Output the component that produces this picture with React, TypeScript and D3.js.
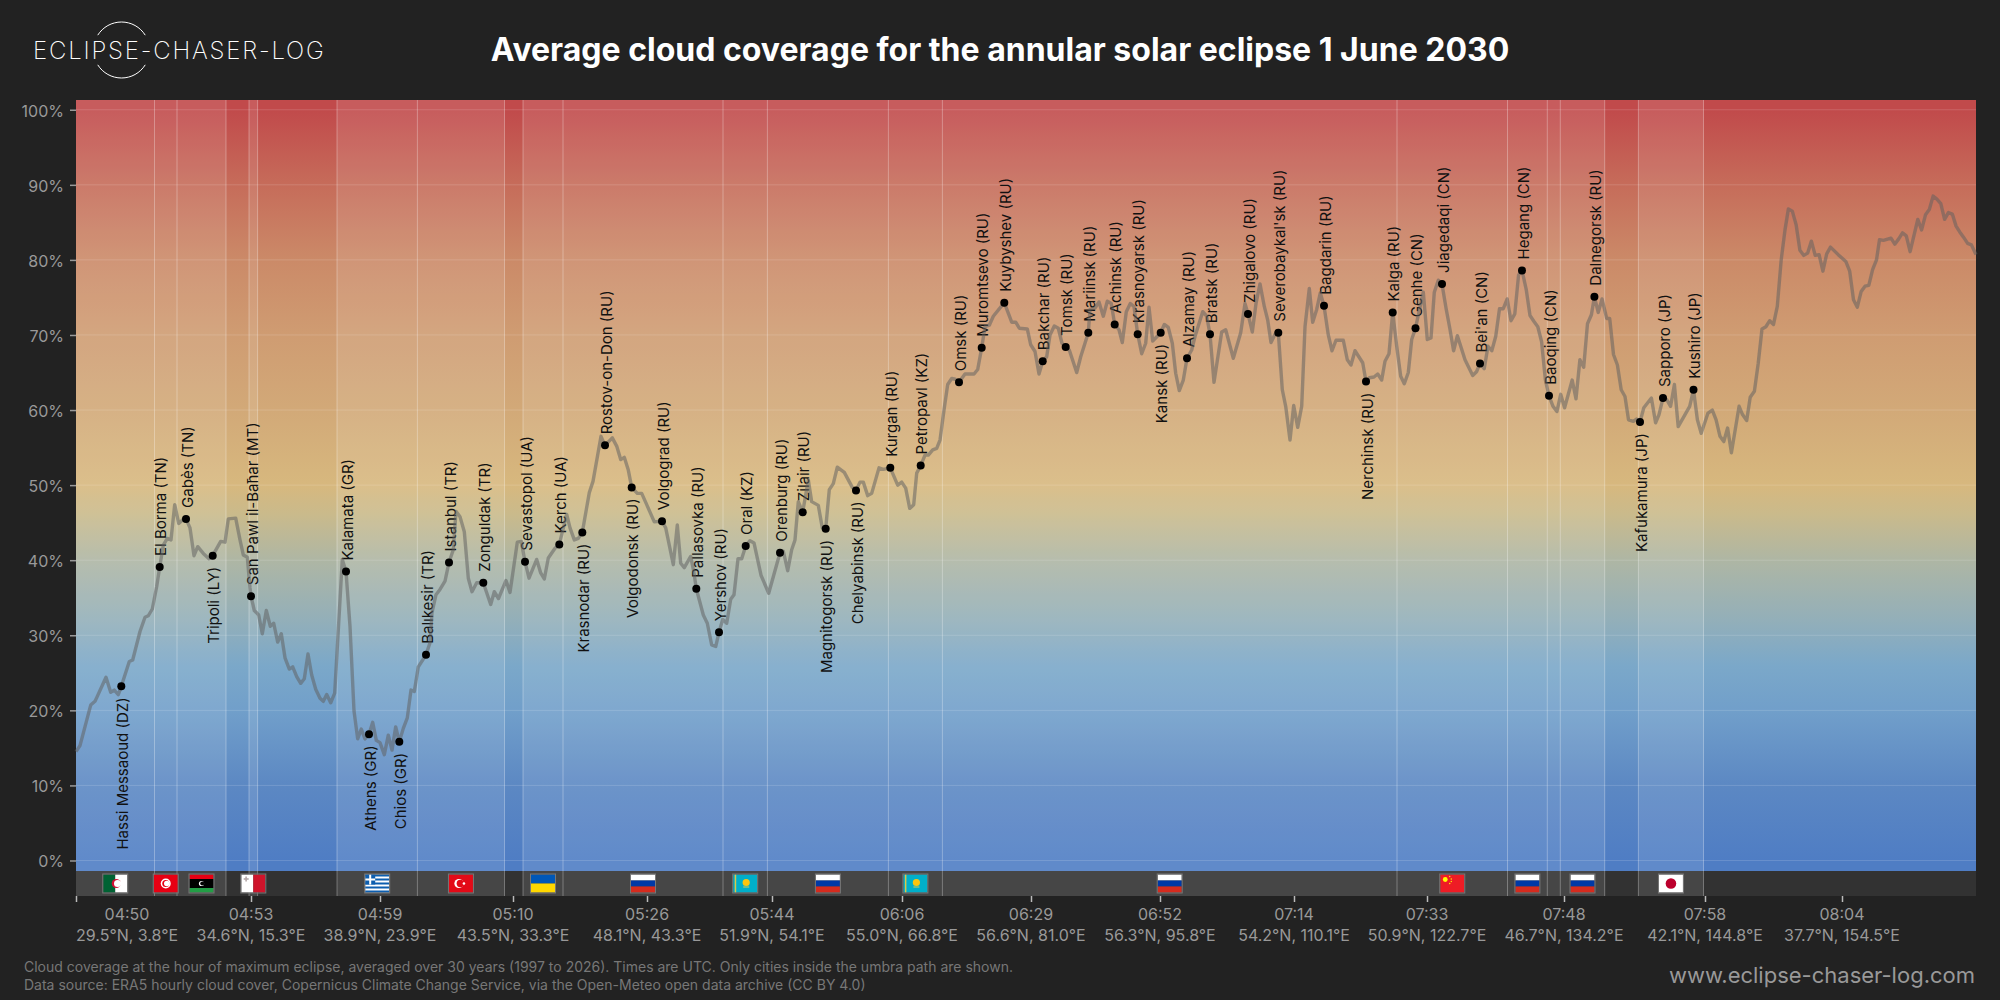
import * as d3 from "d3";
import { useEffect, useRef } from "react";

// position along the eclipse track (0-1900) and mean cloud cover in percent
const cloudTrack: [number, number][] = [
  [0,14.5],[4,15.3],[14.7,20.7],[19,21.2],[30,24.4],[34.7,22.4],[38.3,22.7],[42.3,22.1],[45.3,23.2],[53.3,26.5],[56.7,26.7],[64,30.5],[69,32.4],[72.3,32.6],[76.3,33.5],[80.7,36.5],[83.7,39.1],[87.3,42.0],[91.3,42.9],[95,42.7],[98.7,47.4],[102.7,44.9],[106.7,45.4],[110,45.5],[114,44.3],[118,40.6],[121.7,41.8],[127.3,40.9],[133,40.2],[136.7,40.6],[144.7,42.5],[149,42.4],[152.3,45.5],[159.7,45.6],[164,42.7],[167.3,40.7],[171.3,40.4],[174,36.3],[175,35.2],[178.3,33.3],[182.7,32.7],[186.3,30.2],[190.3,33.3],[194.3,31.2],[197.7,31.6],[201.7,29.1],[205.3,30.2],[209,27.0],[213.3,25.5],[216.7,25.8],[220.7,24.5],[224.7,23.6],[228.3,24.2],[232,27.5],[235.7,24.7],[239.7,22.8],[244,21.6],[247.3,21.2],[250.7,22.1],[254.7,21.0],[258.7,22.3],[262.3,30.7],[266.3,40.1],[270,38.5],[274,31.2],[278,19.9],[281.7,16.2],[285.3,17.5],[289,16.2],[293,16.8],[296.7,18.4],[300.3,16.0],[304,15.7],[308.3,14.1],[312.3,16.7],[316,14.7],[319.7,17.8],[323.3,15.8],[327.3,17.6],[331.3,19.0],[335,22.7],[338.3,22.5],[342.3,25.8],[350,27.4],[354,29],[356,33],[360,35.4],[364,36.1],[369,37.2],[373,39.7],[377.3,41.4],[380,46.5],[384,45.8],[388.3,43.8],[392.3,37.6],[396,35.8],[400.7,37.0],[407.3,37.0],[414.7,34.1],[418.3,35.8],[422.5,34.9],[430,37.3],[434,35.7],[441.3,42.4],[445.3,42.5],[449,39.8],[453,37.6],[460.7,40.1],[464.7,38.3],[468.3,37.5],[472.3,40.3],[479,41.6],[483.3,42.1],[490.7,46.1],[494,44.3],[498.3,42.7],[502.3,42.9],[506.3,43.7],[513.3,49.0],[517,50.5],[525,56.5],[529,55.3],[536.3,56.3],[540.7,55.2],[544.7,53.4],[548.3,53.7],[552.3,52.0],[555.7,49.7],[561.3,48.9],[565.7,48.9],[570.7,47.4],[578.3,45.1],[586,45.2],[589.7,44.3],[597.3,39.4],[601.3,44.7],[604.7,39.6],[608.3,39.0],[614.7,40.5],[618,38.3],[620.3,36.2],[627.3,32.7],[631.3,31.6],[635.7,28.7],[639.7,28.5],[643,30.4],[646.7,32.1],[650.7,31.6],[654.7,34.8],[658,35.4],[662,40.2],[665.7,40.2],[669.7,41.9],[674,42.6],[678,42.3],[685,38.0],[692.7,35.6],[704,41.0],[707.3,41.2],[711.7,38.6],[715.7,41.4],[719,42.7],[722.3,47.8],[726.7,46.4],[732.3,50.7],[735.7,47.8],[742.3,47.3],[746.3,44.3],[749.7,44.2],[753.3,49.4],[757.3,50.2],[761.3,52.4],[768.3,51.7],[776.3,49.7],[780,49.3],[784,50.4],[787.3,50.4],[791.7,48.6],[795.7,48.9],[803,52.3],[807.3,52.1],[814.3,52.3],[821.7,50.0],[825.7,50.4],[829.7,49.6],[833.7,46.9],[837.7,47.4],[840.7,51.6],[844.7,52.6],[849,54.0],[852.3,54.0],[856.7,54.7],[860.7,54.9],[864,56.0],[868,60.0],[871.7,63.4],[875.7,64.2],[879.3,64.1],[883,63.7],[889,64.8],[898,64.8],[901.7,65.4],[905.7,68.3],[909,71.1],[913.3,71.3],[917.3,72.5],[928.3,74.3],[935.7,71.7],[939.7,71.7],[943.3,70.9],[951.3,70.8],[954.7,68.7],[959,67.8],[963,64.8],[966.7,66.5],[970.7,67.1],[974,70.0],[978.3,71.2],[982.3,70.9],[986,68.9],[989.7,68.4],[993.3,68.0],[1000.7,65.0],[1004.7,67.1],[1012.3,70.3],[1014,73.4],[1019,73.6],[1023,74.4],[1027.3,72.5],[1031.3,74.5],[1035.3,74.2],[1038.7,71.4],[1043,70.7],[1046.3,69.0],[1050.3,73.1],[1054.3,74.2],[1058,73.8],[1061.7,70.1],[1065.7,67.5],[1069.7,68.9],[1073,73.7],[1076.7,69.2],[1084.7,70.3],[1088.3,71.4],[1092.3,71.0],[1096.3,68.9],[1099.7,64.9],[1103.3,62.6],[1107.3,64.0],[1111,66.9],[1115.7,68.0],[1119,69.8],[1126.7,73.1],[1130.7,72.5],[1134,70.1],[1138,63.7],[1145.7,70.4],[1149.7,70.7],[1157.3,66.9],[1164.7,70.3],[1169,74.2],[1172,72.8],[1176.3,70.4],[1180,74.2],[1184,76.8],[1188.3,73.8],[1191.7,72.0],[1195,69.0],[1199,70.1],[1202.3,70.3],[1206.3,62.7],[1209.7,60.5],[1214,56.0],[1217.7,60.6],[1221.7,57.7],[1225.7,60.5],[1229,71.1],[1233.3,76.2],[1236.7,71.7],[1240.7,73.4],[1244.3,75.6],[1248,73.9],[1252.3,70.0],[1256,67.9],[1260,69.3],[1267.3,69.3],[1271.3,66.7],[1275,66.0],[1279,67.9],[1286.7,66.3],[1290,63.8],[1293.3,64.3],[1298,64.4],[1301.7,64.8],[1305.7,64.0],[1309,66.5],[1313,67.5],[1316.7,73.0],[1320.7,68.5],[1324.7,64.5],[1328.3,63.5],[1332.3,65.0],[1335.7,69.4],[1339.5,70.9],[1347.3,75.7],[1351.3,69.4],[1355,69.6],[1358.3,75.7],[1362.3,77.3],[1366,76.8],[1370,73.6],[1373.8,70.9],[1377.6,67.9],[1381.4,69.9],[1389,66.7],[1396.7,64.6],[1400.5,65.1],[1404,66.2],[1408.2,65.5],[1412,68.5],[1415.8,67.9],[1419.7,69.8],[1423.5,73.5],[1427.3,73.5],[1431.2,74.8],[1435,71.9],[1438.8,72.8],[1442.6,78.0],[1446,78.6],[1450.3,76.0],[1454,72.6],[1458,71.8],[1461.8,71.1],[1465.6,69.1],[1469.4,64.0],[1473,61.9],[1477,60.5],[1480.9,59.8],[1484.7,62.1],[1488.6,60.3],[1496.2,64.0],[1500,61.5],[1503.9,66.7],[1507.7,65.7],[1511.5,71.5],[1515.4,72.7],[1518.4,75.1],[1522.2,73.0],[1526,74.8],[1530.7,72.2],[1533.7,72.2],[1537.5,67.4],[1541.4,66.0],[1545.2,62.7],[1549,61.8],[1552.5,58.7],[1557.4,58.5],[1560.5,58.8],[1564,58.4],[1567.8,60.3],[1575.4,61.6],[1579.6,58.3],[1583,59.4],[1587,61.6],[1590.7,61.4],[1594.6,60.5],[1598.4,63.4],[1602.2,57.8],[1613.7,60.5],[1617.5,62.7],[1621.4,58.7],[1625.2,56.9],[1632,59.6],[1636.3,60.0],[1640.1,58.7],[1644,56.5],[1647.8,55.8],[1651.6,57.6],[1655.4,54.3],[1663.1,60.5],[1666.5,59.4],[1670.7,58.6],[1674.2,61.7],[1678.4,62.5],[1682.2,66.2],[1686,70.8],[1689.9,71.1],[1693.7,71.9],[1697.5,71.4],[1701.3,73.8],[1705.2,80.0],[1709,84.0],[1712.4,86.8],[1716.3,86.5],[1720.1,84.7],[1723.9,81.3],[1727.8,80.6],[1731.6,80.9],[1735.4,82.5],[1739.2,80.6],[1743.1,80.7],[1746.9,78.5],[1750.7,80.8],[1754.5,81.7],[1762.2,80.7],[1769.8,79.8],[1773.7,78.5],[1777.5,74.7],[1781.3,73.7],[1785.2,75.8],[1789,76.5],[1792.8,76.6],[1796.6,78.7],[1800.5,80.0],[1803.5,82.7],[1807.4,82.6],[1815,82.9],[1818.8,82.1],[1822.7,82.8],[1826.5,83.6],[1830.3,83.2],[1834.1,81.1],[1841.8,85.4],[1845.6,84.0],[1849.5,86.0],[1853.3,86.7],[1857.1,88.5],[1860.9,88.1],[1864.8,87.5],[1868.6,85.4],[1872.4,86.3],[1876.3,86.1],[1880.1,84.5],[1883.9,83.7],[1887.7,83.0],[1891.6,82.2],[1895.4,82.0],[1900,80.7],
];

// name, track position, cloud cover, label side
const cities: [string, number, number, "up" | "down"][] = [
  ["Hassi Messaoud (DZ)", 45.3, 23.2, "down"],
  ["El Borma (TN)", 83.7, 39.1, "up"],
  ["Gabès (TN)", 110, 45.5, "up"],
  ["Tripoli (LY)", 136.7, 40.6, "down"],
  ["San Pawl il-Baħar (MT)", 175, 35.2, "up"],
  ["Kalamata (GR)", 270, 38.5, "up"],
  ["Athens (GR)", 293, 16.8, "down"],
  ["Chios (GR)", 323.3, 15.8, "down"],
  ["Balıkesir (TR)", 350, 27.4, "up"],
  ["Istanbul (TR)", 373, 39.7, "up"],
  ["Zonguldak (TR)", 407.3, 37.0, "up"],
  ["Sevastopol (UA)", 449, 39.8, "up"],
  ["Kerch (UA)", 483.3, 42.1, "up"],
  ["Krasnodar (RU)", 506.3, 43.7, "down"],
  ["Rostov-on-Don (RU)", 529, 55.3, "up"],
  ["Volgodonsk (RU)", 555.7, 49.7, "down"],
  ["Volgograd (RU)", 586, 45.2, "up"],
  ["Pallasovka (RU)", 620.3, 36.2, "up"],
  ["Yershov (RU)", 643, 30.4, "up"],
  ["Oral (KZ)", 669.7, 41.9, "up"],
  ["Orenburg (RU)", 704, 41.0, "up"],
  ["Zilair (RU)", 726.7, 46.4, "up"],
  ["Magnitogorsk (RU)", 749.7, 44.2, "down"],
  ["Chelyabinsk (RU)", 780, 49.3, "down"],
  ["Kurgan (RU)", 814.3, 52.3, "up"],
  ["Petropavl (KZ)", 844.7, 52.6, "up"],
  ["Omsk (RU)", 883, 63.7, "up"],
  ["Muromtsevo (RU)", 905.7, 68.3, "up"],
  ["Kuybyshev (RU)", 928.3, 74.3, "up"],
  ["Bakchar (RU)", 966.7, 66.5, "up"],
  ["Tomsk (RU)", 989.7, 68.4, "up"],
  ["Mariinsk (RU)", 1012.3, 70.3, "up"],
  ["Achinsk (RU)", 1038.7, 71.4, "up"],
  ["Krasnoyarsk (RU)", 1061.7, 70.1, "up"],
  ["Kansk (RU)", 1084.7, 70.3, "down"],
  ["Alzamay (RU)", 1111, 66.9, "up"],
  ["Bratsk (RU)", 1134, 70.1, "up"],
  ["Zhigalovo (RU)", 1172, 72.8, "up"],
  ["Severobaykal'sk (RU)", 1202.3, 70.3, "up"],
  ["Bagdarin (RU)", 1248, 73.9, "up"],
  ["Nerchinsk (RU)", 1290, 63.8, "down"],
  ["Kalga (RU)", 1316.7, 73.0, "up"],
  ["Genhe (CN)", 1339.5, 70.9, "up"],
  ["Jiagedaqi (CN)", 1366, 76.8, "up"],
  ["Bei'an (CN)", 1404, 66.2, "up"],
  ["Hegang (CN)", 1446, 78.6, "up"],
  ["Baoqing (CN)", 1473, 61.9, "up"],
  ["Dalnegorsk (RU)", 1518.4, 75.1, "up"],
  ["Kafukamura (JP)", 1564, 58.4, "down"],
  ["Sapporo (JP)", 1587, 61.6, "up"],
  ["Kushiro (JP)", 1617.5, 62.7, "up"],
];

// land stretches of the track: country, start, end, flag shown
const countrySpans: [string, number, number, boolean][] = [
  ["DZ", 0, 78.5, true],
  ["TN", 78.5, 101, true],
  ["LY", 101, 150, true],
  ["MT", 173, 181.6, true],
  ["GR", 261, 341.4, true],
  ["TR", 341.4, 428.5, true],
  ["UA", 447, 487, true],
  ["RU", 487, 647, true],
  ["KZ", 647, 691.4, true],
  ["RU", 691.4, 812.4, true],
  ["KZ", 812.4, 866.4, true],
  ["RU", 866.4, 1321, true],
  ["CN", 1321, 1431.5, true],
  ["RU", 1431.5, 1471.3, true],
  ["CN", 1471.3, 1484.3, false],
  ["RU", 1484.3, 1528.7, true],
  ["JP", 1562.4, 1627.5, true],
];

const tickTrack = [0, 175, 304, 437, 571, 696, 826, 955, 1084, 1218, 1351, 1488, 1629, 1766];
const tickTimes = ["04:50", "04:53", "04:59", "05:10", "05:26", "05:44", "06:06", "06:29", "06:52", "07:14", "07:33", "07:48", "07:58", "08:04"];
const tickCoords = [
  "29.5°N, 3.8°E", "34.6°N, 15.3°E", "38.9°N, 23.9°E", "43.5°N, 33.3°E", "48.1°N, 43.3°E",
  "51.9°N, 54.1°E", "55.0°N, 66.8°E", "56.6°N, 81.0°E", "56.3°N, 95.8°E", "54.2°N, 110.1°E",
  "50.9°N, 122.7°E", "46.7°N, 134.2°E", "42.1°N, 144.8°E", "37.7°N, 154.5°E",
];
const coverTicks = [0, 10, 20, 30, 40, 50, 60, 70, 80, 90, 100];

// colour ramp of the plot background by cloud cover
const rampStops: [number, string][] = [
  [0, "#4f7dc4"], [10, "#5c88c3"], [20, "#719fca"], [26, "#7ba8c9"], [32, "#93afb9"],
  [40, "#aeb6a4"], [46, "#c9ba8c"], [50, "#d7b87e"], [60, "#d2a978"], [70, "#cf9c72"],
  [80, "#cb8a68"], [90, "#c66c5a"], [100, "#c14a4b"],
];

const font = "Inter, sans-serif";

type G = d3.Selection<SVGGElement, unknown, null, undefined>;

function band(g: G, x: number, y: number, w: number, h: number, fill: string) {
  g.append("rect").attr("x", x).attr("y", y).attr("width", w).attr("height", h).attr("fill", fill);
}

function crescent(g: G, cx: number, cy: number, r: number, bg: string, fg: string) {
  g.append("circle").attr("cx", cx).attr("cy", cy).attr("r", r).attr("fill", fg);
  g.append("circle").attr("cx", cx + r * 0.3).attr("cy", cy).attr("r", r * 0.8).attr("fill", bg);
}

// small flags, drawn in a 24 x 18 box
function drawFlag(g: G, code: string) {
  const W = 24;
  const H = 18;
  if (code === "DZ") {
    band(g, 0, 0, W / 2, H, "#006233");
    band(g, W / 2, 0, W / 2, H, "#fff");
    crescent(g, W / 2 + 1, H / 2, 4.5, "#fff", "#d21034");
  } else if (code === "TN") {
    band(g, 0, 0, W, H, "#e70013");
    g.append("circle").attr("cx", W / 2).attr("cy", H / 2).attr("r", 5).attr("fill", "#fff");
    crescent(g, W / 2, H / 2, 3.5, "#fff", "#e70013");
  } else if (code === "LY") {
    band(g, 0, 0, W, H / 4, "#e70013");
    band(g, 0, H / 4, W, H / 2, "#000");
    band(g, 0, (3 * H) / 4, W, H / 4, "#239e46");
    crescent(g, W / 2, H / 2, 2.6, "#000", "#fff");
  } else if (code === "MT") {
    band(g, 0, 0, W / 2, H, "#fff");
    band(g, W / 2, 0, W / 2, H, "#cf142b");
    band(g, 4, 2, 1.6, 5, "#b5a9a9");
    band(g, 2.4, 3.7, 5, 1.6, "#b5a9a9");
  } else if (code === "GR") {
    band(g, 0, 0, W, H, "#fff");
    d3.range(0, 9, 2).forEach((i) => band(g, 0, i * 2, W, 2, "#0d5eaf"));
    band(g, 0, 0, 10, 10, "#0d5eaf");
    band(g, 4, 0, 2, 10, "#fff");
    band(g, 0, 4, 10, 2, "#fff");
  } else if (code === "TR") {
    band(g, 0, 0, W, H, "#e30a17");
    crescent(g, 10, H / 2, 4.6, "#e30a17", "#fff");
    g.append("circle").attr("cx", 15).attr("cy", H / 2).attr("r", 1.3).attr("fill", "#fff");
  } else if (code === "UA") {
    band(g, 0, 0, W, H / 2, "#0057b7");
    band(g, 0, H / 2, W, H / 2, "#ffd700");
  } else if (code === "RU") {
    band(g, 0, 0, W, H / 3, "#fff");
    band(g, 0, H / 3, W, H / 3, "#0039a6");
    band(g, 0, (2 * H) / 3, W, H / 3, "#d52b1e");
  } else if (code === "KZ") {
    band(g, 0, 0, W, H, "#00afca");
    band(g, 1.5, 0, 1.5, H, "#d9c94a");
    g.append("circle").attr("cx", 13).attr("cy", 8).attr("r", 3.6).attr("fill", "#fec50c");
    band(g, 10, 12, 6, 1, "#d9c94a");
  } else if (code === "CN") {
    band(g, 0, 0, W, H, "#ee1c25");
    g.append("circle").attr("cx", 5).attr("cy", 5).attr("r", 2.4).attr("fill", "#ffff00");
    [[9.5, 2], [11, 4.5], [11, 7], [9.5, 9]].forEach(([cx, cy]) =>
      g.append("circle").attr("cx", cx).attr("cy", cy).attr("r", 0.7).attr("fill", "#ffff00")
    );
  } else if (code === "JP") {
    band(g, 0, 0, W, H, "#fff");
    g.append("circle").attr("cx", W / 2).attr("cy", H / 2).attr("r", 5.3).attr("fill", "#bc002d");
  }
  g.append("rect")
    .attr("x", -0.5)
    .attr("y", -0.5)
    .attr("width", W + 1)
    .attr("height", H + 1)
    .attr("fill", "none")
    .attr("stroke", "#777")
    .attr("stroke-width", 1);
}

export default function App() {
  const svgRef = useRef<SVGSVGElement>(null);

  useEffect(() => {
    if (!svgRef.current) return;
    const svg = d3.select(svgRef.current);
    svg.selectAll("*").remove();

    const width = 2000;
    const height = 1000;
    const left = 76;
    const right = 1976;
    const top = 100;
    const plotBottom = 871;
    const stripBottom = 896;

    svg.append("rect").attr("width", width).attr("height", height).attr("fill", "#222222");

    const x = d3.scaleLinear().domain([0, 1900]).range([left, right]);
    const y = d3.scaleLinear().domain([-1.4, 101.3]).range([plotBottom, top]);

    // Background ramp
    const grad = svg
      .append("defs")
      .append("linearGradient")
      .attr("id", "ramp")
      .attr("gradientUnits", "userSpaceOnUse")
      .attr("x1", 0)
      .attr("x2", 0)
      .attr("y1", y(0))
      .attr("y2", y(100));
    rampStops.forEach(([v, c]) => grad.append("stop").attr("offset", `${v}%`).attr("stop-color", c));

    svg
      .append("rect")
      .attr("x", left)
      .attr("y", top)
      .attr("width", right - left)
      .attr("height", plotBottom - top)
      .attr("fill", "url(#ramp)");
    svg
      .append("rect")
      .attr("x", left)
      .attr("y", plotBottom)
      .attr("width", right - left)
      .attr("height", stripBottom - plotBottom)
      .attr("fill", "#323232");

    // Land stretches
    svg
      .append("g")
      .selectAll("rect")
      .data(countrySpans)
      .enter()
      .append("rect")
      .attr("x", (d) => x(d[1]))
      .attr("y", top)
      .attr("width", (d) => x(d[2]) - x(d[1]))
      .attr("height", stripBottom - top)
      .attr("fill", "#fff")
      .attr("fill-opacity", 0.1);

    const edges = Array.from(new Set(countrySpans.flatMap((d) => [d[1], d[2]]))).filter((d) => d > 0);
    svg
      .append("g")
      .selectAll("line")
      .data(edges)
      .enter()
      .append("line")
      .attr("x1", (d) => x(d))
      .attr("x2", (d) => x(d))
      .attr("y1", top)
      .attr("y2", stripBottom)
      .attr("stroke", "#fff")
      .attr("stroke-opacity", 0.3)
      .attr("stroke-width", 1);

    // Horizontal grid
    svg
      .append("g")
      .selectAll("line")
      .data(coverTicks)
      .enter()
      .append("line")
      .attr("x1", left)
      .attr("x2", right)
      .attr("y1", (d) => y(d))
      .attr("y2", (d) => y(d))
      .attr("stroke", "#fff")
      .attr("stroke-opacity", 0.15)
      .attr("stroke-width", 1);

    // Flags
    svg
      .append("g")
      .selectAll<SVGGElement, [string, number, number, boolean]>("g")
      .data(countrySpans.filter((d) => d[3]))
      .enter()
      .append("g")
      .attr("transform", (d) => `translate(${x((d[1] + d[2]) / 2) - 12}, ${plotBottom + 3.5})`)
      .each(function (d) {
        drawFlag(d3.select(this) as unknown as G, d[0]);
      });

    // Y axis
    const yAxis = d3
      .axisLeft(y)
      .tickValues(coverTicks)
      .tickFormat((d) => `${d}%`)
      .tickSize(6)
      .tickPadding(6);
    const yG = svg.append("g").attr("transform", `translate(${left}, 0)`).call(yAxis);
    yG.select(".domain").remove();
    yG.selectAll(".tick line").attr("stroke", "#999").attr("stroke-width", 1.5);
    yG.selectAll(".tick text")
      .attr("fill", "#999")
      .attr("font-size", 16)
      .attr("font-family", font)
      .attr("dy", "0.4em");

    // X axis
    const xAxis = d3
      .axisBottom(x)
      .tickValues(tickTrack)
      .tickFormat(() => "")
      .tickSize(6);
    const xG = svg.append("g").attr("transform", `translate(0, ${stripBottom})`).call(xAxis);
    xG.select(".domain").remove();
    xG.selectAll(".tick line").attr("stroke", "#bbb").attr("stroke-width", 1.5);
    xG.selectAll(".tick text").remove();

    const tickLabels = svg
      .append("g")
      .selectAll("g")
      .data(tickTrack)
      .enter()
      .append("g")
      .attr("fill", "#999")
      .attr("font-size", 16)
      .attr("font-family", font)
      .attr("text-anchor", (_, i) => (i === 0 ? "start" : "middle"));
    tickLabels
      .append("text")
      .attr("x", (d) => x(d))
      .attr("y", 920)
      .attr("text-anchor", "middle")
      .attr("dx", (_, i) => (i === 0 ? 51 : 0))
      .text((_, i) => tickTimes[i]);
    tickLabels
      .append("text")
      .attr("x", (d) => x(d))
      .attr("y", 941)
      .text((_, i) => tickCoords[i]);

    // Cloud cover line
    const line = d3
      .line<[number, number]>()
      .x((d) => x(d[0]))
      .y((d) => y(d[1]));

    const cityG = svg.append("g");
    cityG
      .selectAll("text")
      .data(cities)
      .enter()
      .append("text")
      .attr(
        "transform",
        (d) => `translate(${x(d[1]) + 1}, ${y(d[2]) + (d[3] === "up" ? -11 : 11)}) rotate(-90)`
      )
      .attr("text-anchor", (d) => (d[3] === "up" ? "start" : "end"))
      .attr("dominant-baseline", "central")
      .attr("fill", "#111")
      .attr("font-size", 15)
      .attr("font-family", font)
      .text((d) => d[0]);

    svg
      .append("path")
      .datum(cloudTrack)
      .attr("d", line)
      .attr("fill", "none")
      .attr("stroke", "#606060")
      .attr("stroke-opacity", 0.53)
      .attr("stroke-width", 3.4)
      .attr("stroke-linejoin", "round");

    svg
      .append("g")
      .selectAll("circle")
      .data(cities)
      .enter()
      .append("circle")
      .attr("cx", (d) => x(d[1]))
      .attr("cy", (d) => y(d[2]))
      .attr("r", 4)
      .attr("fill", "#000");

    // Header
    const logo = svg.append("g");
    const ring = d3.path();
    const ringR = 28;
    const a = (58 * Math.PI) / 180;
    ring.arc(121.5, 50, ringR, -Math.PI / 2 - a, -Math.PI / 2 + a);
    ring.moveTo(121.5 + ringR * Math.sin(a), 50 + ringR * Math.cos(a));
    ring.arc(121.5, 50, ringR, Math.PI / 2 - a, Math.PI / 2 + a);
    logo
      .append("path")
      .attr("d", ring.toString())
      .attr("fill", "none")
      .attr("stroke", "#fff")
      .attr("stroke-width", 1);
    logo
      .append("text")
      .attr("x", 33)
      .attr("y", 59)
      .attr("fill", "#fff")
      .attr("font-size", 24)
      .attr("font-weight", 200)
      .attr("letter-spacing", 1.8)
      .attr("font-family", font)
      .text("ECLIPSE-CHASER-LOG");

    svg
      .append("text")
      .attr("x", 1000)
      .attr("y", 61)
      .attr("text-anchor", "middle")
      .attr("fill", "#fff")
      .attr("font-size", 32)
      .attr("font-weight", 700)
      .attr("font-family", font)
      .text("Average cloud coverage for the annular solar eclipse 1 June 2030");

    // Footer
    svg
      .append("text")
      .attr("x", 24)
      .attr("y", 972)
      .attr("fill", "#777")
      .attr("font-size", 14)
      .attr("font-family", font)
      .text("Cloud coverage at the hour of maximum eclipse, averaged over 30 years (1997 to 2026). Times are UTC. Only cities inside the umbra path are shown.");
    svg
      .append("text")
      .attr("x", 24)
      .attr("y", 990)
      .attr("fill", "#777")
      .attr("font-size", 14)
      .attr("font-family", font)
      .text("Data source: ERA5 hourly cloud cover, Copernicus Climate Change Service, via the Open-Meteo open data archive (CC BY 4.0)");
    svg
      .append("text")
      .attr("x", 1975)
      .attr("y", 983)
      .attr("text-anchor", "end")
      .attr("fill", "#999")
      .attr("font-size", 22)
      .attr("font-family", font)
      .text("www.eclipse-chaser-log.com");
  }, []);

  return (
    <svg
      ref={svgRef}
      width={2000}
      height={1000}
      style={{ position: "absolute", left: 0, top: 0 }}
    ></svg>
  );
}
